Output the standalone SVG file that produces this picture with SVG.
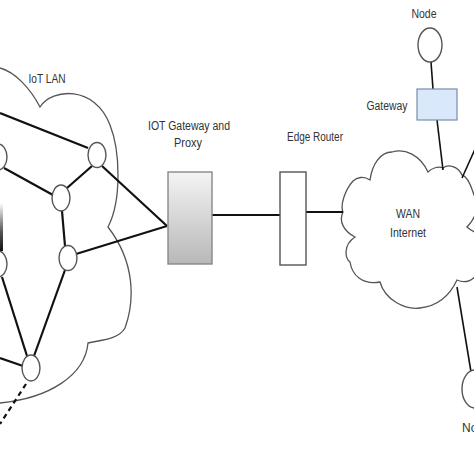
<svg xmlns="http://www.w3.org/2000/svg" width="474" height="474" viewBox="0 0 474 474">
<defs>
<linearGradient id="gw" x1="0" y1="0" x2="0" y2="1"><stop offset="0" stop-color="#f4f4f4"/><stop offset="1" stop-color="#b8b8b8"/></linearGradient>
<linearGradient id="strip" x1="0" y1="0" x2="0" y2="1"><stop offset="0" stop-color="#ffffff"/><stop offset="0.6" stop-color="#555"/><stop offset="1" stop-color="#111"/></linearGradient>
<style>
.cloud{fill:none;stroke:#555;stroke-width:1.3}
.wire{stroke:#111;stroke-width:2.2;fill:none}
.thin{stroke:#111;stroke-width:1.6;fill:none}
.node{fill:#fff;stroke:#555;stroke-width:1.4}
.lbl{font-family:"Liberation Sans",Arial,sans-serif;font-size:12px;fill:#333}
</style>
</defs>
<rect width="474" height="474" fill="#fff"/>
<g id="iot-lan-cloud">
<path class="cloud" d="M0,68 C15,72 30,88 40,107 C52,88 95,85 110,125 C120,150 122,200 108,227 C135,262 135,300 125,328 C118,340 100,340 88,343 C85,375 50,398 0,403"/>
<text class="lbl" x="47" y="83" text-anchor="middle" textLength="37" lengthAdjust="spacingAndGlyphs" font-size="13">IoT LAN</text>
</g>
<g id="wan-cloud">
<path class="cloud" d="M353,181 C345,190 340,205 343,212 C338,222 345,232 355,237 C343,245 345,258 350,262 C352,275 362,285 380,282 C385,300 405,310 420,308 C438,306 450,295 457,280 C466,284 474,280 480,270 M480,235 C474,232 470,230 467,227 C476,218 480,205 474,195 C470,182 466,176 462,175 C458,166 448,164 443,168 C438,166 432,168 428,172 C420,155 405,148 392,152 C380,152 372,165 370,180 C364,176 357,177 353,181"/>
<text class="lbl" x="408" y="218" text-anchor="middle" textLength="24" lengthAdjust="spacingAndGlyphs">WAN</text>
<text class="lbl" x="408" y="237" text-anchor="middle" textLength="36" lengthAdjust="spacingAndGlyphs">Internet</text>
</g>
<g id="connectors">
<line class="wire" x1="0" y1="113" x2="88" y2="148"/>
<line class="wire" x1="4" y1="168" x2="53" y2="195"/>
<line class="wire" x1="67" y1="188" x2="92" y2="166"/>
<line class="wire" x1="102" y1="166" x2="167" y2="226"/>
<line class="wire" x1="76" y1="254" x2="167" y2="226"/>
<line class="wire" x1="62" y1="211" x2="65" y2="246"/>
<line class="wire" x1="2" y1="277" x2="27" y2="356"/>
<line class="wire" x1="65" y1="270" x2="34" y2="356"/>
<line class="wire" x1="0" y1="358" x2="23" y2="366"/>
<line class="wire" x1="26" y1="384" x2="0" y2="424" stroke-dasharray="5,4"/>
<line class="wire" x1="212" y1="215" x2="280" y2="215"/>
<line class="wire" x1="306" y1="212" x2="343" y2="212"/>
<line class="thin" x1="431" y1="62" x2="433" y2="89"/>
<line class="thin" x1="437" y1="120" x2="443" y2="170"/>
<line class="thin" x1="462" y1="178" x2="476" y2="147"/>
<line class="thin" x1="457" y1="287" x2="472" y2="378"/>
</g>
<g id="node-a"><ellipse class="node" cx="-2" cy="157" rx="9" ry="13"/></g>
<g id="node-b"><ellipse class="node" cx="97" cy="155" rx="9" ry="12.5"/></g>
<g id="node-c"><ellipse class="node" cx="61" cy="198" rx="9" ry="13"/></g>
<g id="node-d"><ellipse class="node" cx="68" cy="258" rx="9" ry="12.5"/></g>
<g id="node-e"><ellipse class="node" cx="-2" cy="264" rx="9" ry="13"/></g>
<g id="node-f"><ellipse class="node" cx="31" cy="368" rx="9" ry="13"/></g>
<g id="strip-left"><rect x="0" y="203" width="3" height="48" fill="url(#strip)"/></g>
<g id="iot-gateway">
<rect x="168" y="172" width="44" height="92" fill="url(#gw)" stroke="#888" stroke-width="1.4"/>
<text class="lbl" x="189" y="130" text-anchor="middle" textLength="82" lengthAdjust="spacingAndGlyphs" font-size="13">IOT Gateway and</text>
<text class="lbl" x="188" y="147" text-anchor="middle" textLength="28" lengthAdjust="spacingAndGlyphs" font-size="13">Proxy</text>
</g>
<g id="edge-router">
<rect x="280" y="172" width="26" height="93" fill="#fff" stroke="#555" stroke-width="1.4"/>
<text class="lbl" x="315" y="141" text-anchor="middle" textLength="56" lengthAdjust="spacingAndGlyphs" font-size="13">Edge Router</text>
</g>
<g id="node-top">
<ellipse class="node" cx="430" cy="45" rx="12" ry="17"/>
<text class="lbl" x="424" y="18" text-anchor="middle" textLength="25" lengthAdjust="spacingAndGlyphs">Node</text>
</g>
<g id="gateway">
<rect x="417" y="89" width="40" height="31" fill="#dae8fc" stroke="#7a8da8" stroke-width="1.2"/>
<text class="lbl" x="387" y="110" text-anchor="middle" textLength="41" lengthAdjust="spacingAndGlyphs">Gateway</text>
</g>
<g id="node-bottom">
<ellipse class="node" cx="475" cy="389" rx="13" ry="19"/>
<text class="lbl" x="462" y="432">Node</text>
</g>
</svg>
